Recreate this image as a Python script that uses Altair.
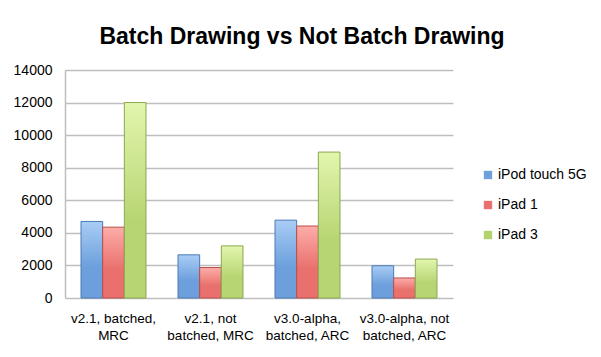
import altair as alt
import pandas as pd

categories = ["v2.1, batched,\nMRC", "v2.1, not\nbatched, MRC", "v3.0-alpha,\nbatched, ARC", "v3.0-alpha, not\nbatched, ARC"]
series = ["iPod touch 5G", "iPad 1", "iPad 3"]
ipod_touch_5g = [4700, 2650, 4780, 1980]
ipad_1 = [4350, 1870, 4420, 1230]
ipad_3 = [12000, 3200, 8960, 2390]

legend_colors = ["#6FA0DC", "#E8726F", "#B3D36E"]
gradients = [
    ("#A9CDF5", "#6C9FDC", "#4A7AB5"),
    ("#FDADA9", "#E9706C", "#B84E4B"),
    ("#E2F6AE", "#B8D573", "#8AA851"),
]

rows = []
for s, vals in zip(series, [ipod_touch_5g, ipad_1, ipad_3]):
    for c, v in zip(categories, vals):
        rows.append({"cat": c, "series": s, "value": v})
df = pd.DataFrame(rows)

font = "Liberation Sans"

def layer(i):
    light, mid, dark = gradients[i]
    grad = alt.Gradient(
        gradient="linear", x1=0, x2=0, y1=0, y2=1,
        stops=[alt.GradientStop(color=light, offset=0),
               alt.GradientStop(color=mid, offset=0.6),
               alt.GradientStop(color=mid, offset=1)],
    )
    return alt.Chart(df).transform_filter(
        alt.datum.series == series[i]
    ).mark_bar(fill=grad, stroke=dark, strokeWidth=1, fillOpacity=1).encode(
        x=alt.X("cat:N", sort=categories, title=None,
                scale=alt.Scale(paddingInner=0.33, paddingOuter=0.165),
                axis=alt.Axis(labelExpr="split(datum.label, '\\n')", labelAngle=0,
                              labelFontSize=13.5, labelFont=font, labelColor="#000",
                              labelPadding=13, ticks=False, domain=False, grid=False,
                              labelLineHeight=17, labelBaseline="top")),
        xOffset=alt.XOffset("series:N", sort=series, scale=alt.Scale(domain=series, paddingInner=0)),
        y=alt.Y("value:Q", title=None,
                scale=alt.Scale(domain=[0, 14000], nice=False),
                axis=alt.Axis(values=list(range(0, 14001, 2000)), format="d",
                              labelFontSize=14, labelFont=font, labelColor="#000",
                              labelPadding=13, ticks=False, domain=True,
                              domainColor="#BEBEBE", domainWidth=1.5, grid=True,
                              gridColor="#BEBEBE", gridWidth=1.5)),
        color=alt.Color("series:N", sort=series,
                        scale=alt.Scale(domain=series, range=legend_colors),
                        legend=alt.Legend(title=None, orient="none", legendX=416, legendY=98,
                                          symbolType="square", symbolSize=70,
                                          symbolStrokeWidth=0, labelFontSize=14,
                                          labelFont=font, labelColor="#000",
                                          rowPadding=16, labelOffset=3)),
    )

chart = alt.layer(layer(0), layer(1), layer(2)).properties(
    width=388, height=228,
    autosize=alt.AutoSizeParams(type="none"),
    padding={"left": 57, "top": 62, "right": 140, "bottom": 50},
    title=alt.TitleParams("Batch Drawing vs Not Batch Drawing", font=font,
                          fontSize=23, fontWeight="bold", color="#000",
                          anchor="middle", dx=43, offset=14),
).configure_view(stroke=None)

chart.save("out.html", embed_options={"renderer": "svg", "actions": False})
